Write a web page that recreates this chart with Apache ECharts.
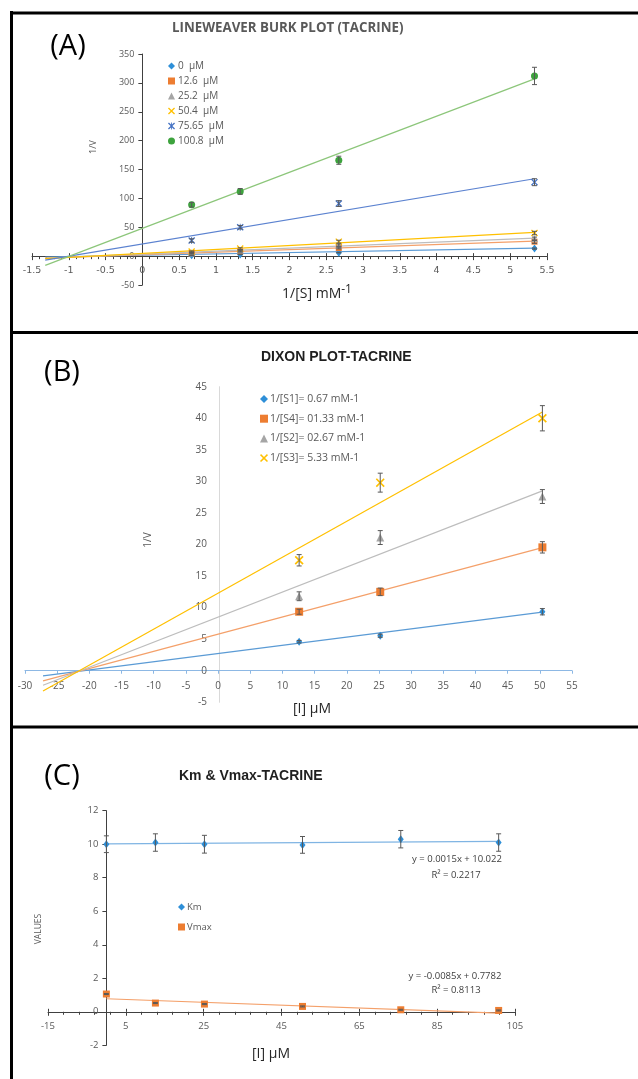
<!DOCTYPE html>
<html><head><meta charset="utf-8">
<script src="https://cdn.jsdelivr.net/npm/echarts@6/dist/echarts.min.js"></script>
<style>html,body{margin:0;padding:0;background:#fff}#c{width:638px;height:1079px}</style>
</head><body><div id="c"></div><script>
// ---------- Panel A : Lineweaver-Burk ----------
const aX = [0.67, 1.33, 2.67, 5.33];
const aNames = ['0  µM', '12.6  µM', '25.2  µM', '50.4  µM', '75.65  µM', '100.8  µM'];
const aY0 = [1.5, 3, 6, 13];
const aY12 = [5, 8, 14, 25];
const aY25 = [6, 10, 19, 30];
const aY50 = [8, 13, 25, 40];
const aY75 = [27, 50, 91, 128];
const aY100 = [89, 112, 166, 312];
const aE0 = [0.5, 0.5, 0.5, 1];
const aE12 = [1, 1, 1.5, 3];
const aE25 = [1, 1, 2, 3];
const aE50 = [1, 1.5, 2.5, 3];
const aE75 = [3, 3, 5, 6];
const aE100 = [4, 5, 7, 15];
const aTrendX = [-1.32, 5.33];
const aT0 = [-1.5, 14];
const aT12 = [-3.5, 26];
const aT25 = [-3.5, 31];
const aT50 = [-4.5, 41];
const aT75 = [-7, 134];
const aT100 = [-16, 307];
const aXAxis = [-1.5, 5.5, 0.5];
const aYAxis = [-50, 350, 50];

// ---------- Panel B : Dixon ----------
const bX = [12.6, 25.2, 50.4];
const bNames = ['1/[S1]= 0.67 mM-1', '1/[S4]= 01.33 mM-1', '1/[S2]= 02.67 mM-1', '1/[S3]= 5.33 mM-1'];
const bY1 = [4.6, 5.55, 9.35];
const bY4 = [9.35, 12.5, 19.55];
const bY2 = [11.8, 21.1, 27.6];
const bY3 = [17.5, 29.8, 40.0];
const bE1 = [0.2, 0.25, 0.5];
const bE4 = [0.4, 0.6, 0.9];
const bE2 = [0.7, 1.1, 1.1];
const bE3 = [0.9, 1.5, 2.0];
const bTrendX = [-27.2, 50.4];
const bT1 = [-0.8, 9.3];
const bT4 = [-1.6, 19.5];
const bT2 = [-2.3, 28.5];
const bT3 = [-3.2, 41];
const bXAxis = [-30, 55, 5];
const bYAxis = [-5, 45, 5];

// ---------- Panel C : Km & Vmax ----------
const cX = [0, 12.6, 25.2, 50.4, 75.65, 100.8];
const cNames = ['Km', 'Vmax'];
const cKm = [10.0, 10.1, 10.0, 9.96, 10.3, 10.1];
const cVmax = [1.06, 0.52, 0.46, 0.32, 0.12, 0.08];
const cKmErr = [0.5, 0.52, 0.53, 0.5, 0.52, 0.52];
const cVmaxErr = [0.03, 0.03, 0.03, 0.03, 0.03, 0.03];
const cTrendX = [0, 100.8];
const cTKm = [10.022, 10.173];
const cTVmax = [0.778, -0.079];
const cEqKm = ['y = 0.0015x + 10.022', 'R² = 0.2217'];
const cEqVmax = ['y = -0.0085x + 0.7782', 'R² = 0.8113'];
const cXAxis = [-15, 105, 20];
const cYAxis = [-2, 12, 2];

// ---------- helpers ----------
const GRAY = '#595959';
const SANS = 'Open Sans';
const ARIAL = 'Liberation Sans';
const XMARK = 'path://M0,1.3L1.3,0L5,3.7L8.7,0L10,1.3L6.3,5L10,8.7L8.7,10L5,6.3L1.3,10L0,8.7L3.7,5Z';
const ASTER = 'path://M0,1.3L1.3,0L5,3.7L8.7,0L10,1.3L6.3,5L10,8.7L8.7,10L5,6.3L1.3,10L0,8.7L3.7,5ZM4.4,0L5.6,0L5.6,10L4.4,10Z';
const pts = (xs, ys) => xs.map((x, i) => [x, ys[i]]);
const epts = (xs, ys, es) => xs.map((x, i) => [x, ys[i], es[i]]);

function errRender(params, api) {
  const x = api.value(0), y = api.value(1), e = api.value(2);
  const t = api.coord([x, y + e]), b = api.coord([x, y - e]);
  const w = 2.5, st = {stroke: '#595959', lineWidth: 1};
  return {type: 'group', children: [
    {type: 'line', shape: {x1: t[0], y1: t[1], x2: b[0], y2: b[1]}, style: st},
    {type: 'line', shape: {x1: t[0] - w, y1: t[1], x2: t[0] + w, y2: t[1]}, style: st},
    {type: 'line', shape: {x1: b[0] - w, y1: b[1], x2: b[0] + w, y2: b[1]}, style: st}
  ]};
}

const series = [];
function addSet(idx, name, xs, ys, es, tx, ty, color, lineColor, symbol, size) {
  series.push({type: 'line', xAxisIndex: idx, yAxisIndex: idx, data: pts(tx, ty), symbol: 'none',
    silent: true, lineStyle: {color: lineColor, width: 1.2}, z: 2});
  series.push({type: 'scatter', name: name, xAxisIndex: idx, yAxisIndex: idx, data: pts(xs, ys),
    symbol: symbol, symbolSize: size, itemStyle: {color: color, opacity: 1}, z: 3});
  series.push({type: 'custom', xAxisIndex: idx, yAxisIndex: idx, data: epts(xs, ys, es),
    renderItem: errRender, encode: {x: 0, y: 1}, silent: true, z: 4});
}

// Panel A sets
addSet(0, aNames[0], aX, aY0, aE0, aTrendX, aT0, '#2E8FD8', '#5B9BD5', 'diamond', [6, 8]);
addSet(0, aNames[1], aX, aY12, aE12, aTrendX, aT12, '#ED7D31', '#F4A06A', 'rect', 6);
addSet(0, aNames[2], aX, aY25, aE25, aTrendX, aT25, '#A5A5A5', '#BDBDBD', 'triangle', 7);
addSet(0, aNames[3], aX, aY50, aE50, aTrendX, aT50, '#FFC000', '#FFC000', XMARK, 7);
addSet(0, aNames[4], aX, aY75, aE75, aTrendX, aT75, '#4472C4', '#5B82D0', ASTER, 7);
addSet(0, aNames[5], aX, aY100, aE100, aTrendX, aT100, '#3DA33D', '#8CC67A', 'circle', 7);
// Panel B sets
addSet(1, bNames[0], bX, bY1, bE1, bTrendX, bT1, '#2E8FD8', '#5B9BD5', 'diamond', [6, 8]);
addSet(1, bNames[1], bX, bY4, bE4, bTrendX, bT4, '#ED7D31', '#F4A06A', 'rect', 8);
addSet(1, bNames[2], bX, bY2, bE2, bTrendX, bT2, '#A5A5A5', '#BDBDBD', 'triangle', 8);
addSet(1, bNames[3], bX, bY3, bE3, bTrendX, bT3, '#FFC000', '#FFC000', XMARK, 9);
// Panel C sets
addSet(2, cNames[0], cX, cKm, cKmErr, cTrendX, cTKm, '#2E8FD8', '#7FB4E3', 'diamond', [6, 8]);
addSet(2, cNames[1], cX, cVmax, cVmaxErr, cTrendX, cTVmax, '#ED7D31', '#F4A06A', 'rect', 7);

function ax(idx, r, o) {
  return Object.assign({type: 'value', gridIndex: idx, min: r[0], max: r[1], interval: r[2],
    splitLine: {show: false}, minorSplitLine: {show: false}}, o);
}
const darkLine = {onZero: false, lineStyle: {color: '#404040', width: 1}};
// second (label-less) axis so that the major ticks cross the axis line
const crossAxis = (idx, r) => ax(idx, r, {position: 'bottom', axisLine: {show: false, onZero: false}, axisLabel: {show: false},
  axisTick: {inside: true, length: 3, lineStyle: {color: '#404040'}}});

const option = {
  animation: false,
  backgroundColor: '#ffffff',
  grid: [
    {left: 32, top: 54, width: 515, height: 231},
    {left: 25, top: 386.7, width: 547, height: 315.6},
    {left: 48, top: 810.7, width: 467, height: 234.6}
  ],
  xAxis: [
    ax(0, aXAxis, {position: 'bottom', axisLine: darkLine, axisTick: {length: 4, lineStyle: {color: '#404040'}},
      minorTick: {show: true, splitNumber: 5, length: 3, lineStyle: {color: '#404040'}},
      axisLabel: {fontSize: 9.5, color: GRAY, margin: 9, fontFamily: 'DejaVu Sans'}}),
    ax(1, bXAxis, {position: 'bottom', axisLine: {onZero: false, lineStyle: {color: '#8DB8E4', width: 1.2}}, axisTick: {length: 3, lineStyle: {color: '#8DB8E4'}},
      axisLabel: {fontSize: 10, color: GRAY, margin: 10, fontFamily: SANS}}),
    ax(2, cXAxis, {position: 'bottom', axisLine: darkLine, axisTick: {length: 4, lineStyle: {color: '#404040'}},
      minorTick: {show: true, splitNumber: 5, length: 3, lineStyle: {color: '#404040'}},
      axisLabel: {fontSize: 9.5, color: GRAY, margin: 10, fontFamily: SANS}}),
    crossAxis(0, aXAxis),
    crossAxis(2, cXAxis)
  ],
  yAxis: [
    ax(0, aYAxis, {position: 'left', axisLine: darkLine, axisTick: {length: 4, lineStyle: {color: '#404040'}},
      axisLabel: {fontSize: 9, color: GRAY, margin: 8, fontFamily: SANS}}),
    ax(1, bYAxis, {position: 'left', axisLine: {onZero: false, lineStyle: {color: '#D9D9D9', width: 1}}, axisTick: {show: false},
      axisLabel: {fontSize: 10, color: GRAY, margin: 12, fontFamily: SANS}}),
    ax(2, cYAxis, {position: 'left', axisLine: darkLine, axisTick: {length: 4, lineStyle: {color: '#404040'}},
      axisLabel: {fontSize: 9.5, color: GRAY, margin: 8, fontFamily: SANS}})
  ],
  legend: [
    {data: aNames, orient: 'vertical', selectedMode: false, padding: 0, left: 168, top: 60, itemWidth: 7, itemHeight: 7, itemGap: 3,
      textStyle: {fontSize: 10, color: GRAY, lineHeight: 12, fontFamily: SANS, padding: [0, 0, 0, -2]}},
    {data: bNames, orient: 'vertical', selectedMode: false, padding: 0, left: 260, top: 393, itemWidth: 8, itemHeight: 8, itemGap: 7.7,
      textStyle: {fontSize: 10.5, color: GRAY, lineHeight: 12, fontFamily: SANS, padding: [0, 0, 0, -3]}},
    {data: cNames, orient: 'vertical', selectedMode: false, padding: 0, left: 178, top: 901, itemWidth: 7, itemHeight: 7, itemGap: 8,
      textStyle: {fontSize: 9.5, color: GRAY, lineHeight: 12, fontFamily: SANS, padding: [0, 0, 0, -3]}}
  ],
  title: [
    {text: 'LINEWEAVER BURK PLOT (TACRINE)', left: 172, top: 22, padding: 0,
      textStyle: {fontSize: 13.3, fontWeight: 'bold', color: GRAY, fontFamily: SANS}},
    {text: 'DIXON PLOT-TACRINE', left: 261, top: 350, padding: 0,
      textStyle: {fontSize: 14, fontWeight: 'bold', color: '#1F1F1F', fontFamily: ARIAL}},
    {text: 'Km & Vmax-TACRINE', left: 179, top: 769, padding: 0,
      textStyle: {fontSize: 14, fontWeight: 'bold', color: '#1F1F1F', fontFamily: ARIAL}}
  ],
  graphic: [
    {type: 'line', shape: {x1: 11.5, y1: 11, x2: 11.5, y2: 1079}, style: {stroke: '#000', lineWidth: 3}},
    {type: 'line', shape: {x1: 10, y1: 13, x2: 638, y2: 13}, style: {stroke: '#000', lineWidth: 3}},
    {type: 'line', shape: {x1: 10, y1: 332.5, x2: 638, y2: 332.5}, style: {stroke: '#000', lineWidth: 3}},
    {type: 'line', shape: {x1: 10, y1: 727, x2: 638, y2: 727}, style: {stroke: '#000', lineWidth: 3}},
    {type: 'text', x: 68, y: 47, style: {text: '(A)', font: '29px "Open Sans"', fill: '#000', align: 'center', verticalAlign: 'middle'}},
    {type: 'text', x: 62, y: 373, style: {text: '(B)', font: '29px "Open Sans"', fill: '#000', align: 'center', verticalAlign: 'middle'}},
    {type: 'text', x: 62, y: 777, style: {text: '(C)', font: '29px "Open Sans"', fill: '#000', align: 'center', verticalAlign: 'middle'}},
    {type: 'text', x: 93, y: 147, rotation: Math.PI / 2, style: {text: '1/V', font: '9px "Open Sans"', fill: GRAY, align: 'center', verticalAlign: 'middle'}},
    {type: 'text', x: 317, y: 294, style: {text: '{a|1/[S] mM}{b|-1}', rich: {a: {fontSize: 14, fontFamily: SANS, fill: '#262626'}, b: {fontSize: 12, fontFamily: SANS, fill: '#262626', padding: [0, 0, 8, 0]}}, align: 'center', verticalAlign: 'middle'}},
    {type: 'text', x: 148, y: 540, rotation: Math.PI / 2, style: {text: '1/V', font: '10px "Open Sans"', fill: GRAY, align: 'center', verticalAlign: 'middle'}},
    {type: 'text', x: 312, y: 709, style: {text: '[I] µM', font: '14px "Open Sans"', fill: '#262626', align: 'center', verticalAlign: 'middle'}},
    {type: 'text', x: 39, y: 929, rotation: Math.PI / 2, style: {text: 'VALUES', font: '8.5px "Liberation Sans Narrow", "Open Sans"', fill: GRAY, align: 'center', verticalAlign: 'middle'}},
    {type: 'text', x: 271, y: 1054, style: {text: '[I] µM', font: '14px "Open Sans"', fill: '#262626', align: 'center', verticalAlign: 'middle'}},
    {type: 'text', x: 457, y: 859, style: {text: cEqKm[0], font: '9.5px "Open Sans"', fill: '#404040', align: 'center', verticalAlign: 'middle'}},
    {type: 'text', x: 456, y: 875, style: {text: cEqKm[1], font: '9.5px "Open Sans"', fill: '#404040', align: 'center', verticalAlign: 'middle'}},
    {type: 'text', x: 455, y: 976, style: {text: cEqVmax[0], font: '9.5px "Open Sans"', fill: '#404040', align: 'center', verticalAlign: 'middle'}},
    {type: 'text', x: 456, y: 990, style: {text: cEqVmax[1], font: '9.5px "Open Sans"', fill: '#404040', align: 'center', verticalAlign: 'middle'}}
  ],
  series: series
};
const chart = echarts.init(document.getElementById('c'));
chart.setOption(option);
// move each axis (line, ticks and labels) onto the other axis' zero, using the library's own scales
const xOff = [], yOff = [];
option.grid.forEach((g, i) => {
  const p = chart.convertToPixel({gridIndex: i}, [0, 0]);
  xOff.push({offset: -(g.top + g.height - p[1])});
  yOff.push({offset: -(p[0] - g.left)});
});
xOff.push({offset: xOff[0].offset}, {offset: xOff[2].offset});
chart.setOption({xAxis: xOff, yAxis: yOff});
</script></body></html>
